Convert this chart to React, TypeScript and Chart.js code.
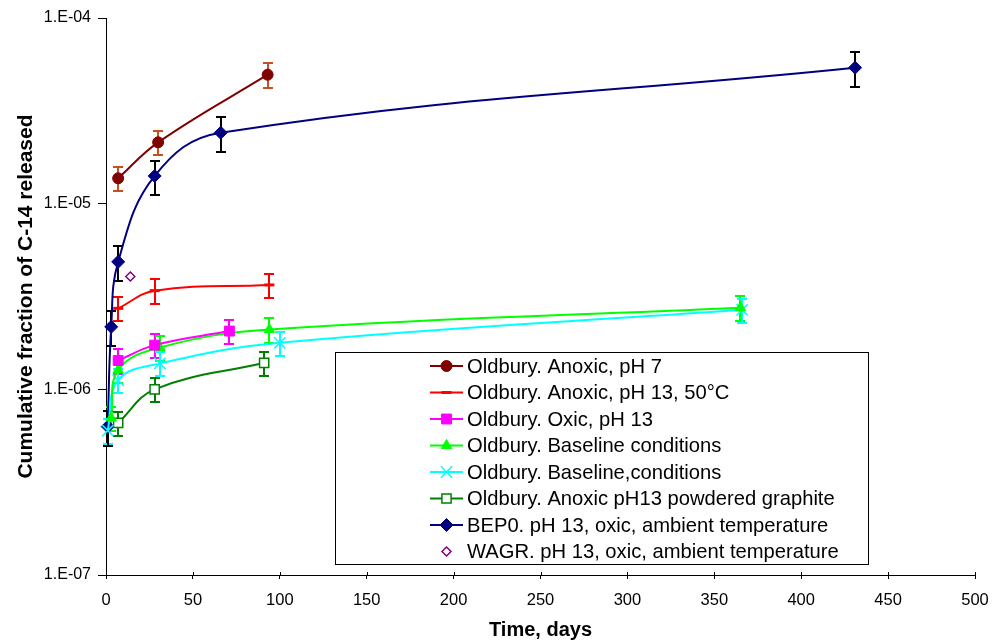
import React, { useEffect, useRef } from 'react';
import { Chart, registerables } from 'chart.js';

Chart.register(...registerables);

const FONT_FAMILY = '"Liberation Sans", Arial, Helvetica, sans-serif';

// Axis ranges and tick labels
const xMin = 0;
const xMax = 500;
const xStep = 50;
const yMin = 1e-7;
const yMax = 1e-4;
const yTickValues = [1e-7, 1e-6, 1e-5, 1e-4];
const yTickLabels = ['1.E-07', '1.E-06', '1.E-05', '1.E-04'];

const xTitle = 'Time, days';
const yTitle = 'Cumulative fraction of C-14 released';

const seriesLabels = [
  'Oldbury. Anoxic, pH 7',
  'Oldbury. Anoxic, pH 13, 50°C',
  'Oldbury. Oxic, pH 13',
  'Oldbury. Baseline conditions',
  'Oldbury. Baseline,conditions',
  'Oldbury. Anoxic pH13 powdered graphite',
  'BEP0. pH 13, oxic, ambient temperature',
  'WAGR. pH 13, oxic, ambient temperature',
];

// Oldbury. Anoxic, pH 7
const anoxicPh7Days = [7, 30, 93];
const anoxicPh7Frac = [1.37e-5, 2.14e-5, 4.95e-5];
const anoxicPh7Err = [0.15, 0.15, 0.15];

// Oldbury. Anoxic, pH 13, 50°C
const anoxic50cDays = [7, 28, 94];
const anoxic50cFrac = [2.73e-6, 3.4e-6, 3.65e-6];
const anoxic50cErr = [0.15, 0.15, 0.15];

// Oldbury. Oxic, pH 13
const oxicDays = [7, 28, 71];
const oxicFrac = [1.43e-6, 1.73e-6, 2.06e-6];
const oxicErr = [0.15, 0.15, 0.15];

// Oldbury. Baseline conditions
const baselineDays = [3, 7, 31, 94, 365];
const baselineFrac = [7.0e-7, 1.27e-6, 1.68e-6, 2.1e-6, 2.75e-6];
const baselineErr = [0.15, 0.15, 0.15, 0.15, 0.15];

// Oldbury. Baseline,conditions (repeat)
const baseline2Days = [1, 7, 31, 100, 366];
const baseline2Frac = [6.0e-7, 1.12e-6, 1.38e-6, 1.78e-6, 2.68e-6];
const baseline2Err = [0.15, 0.15, 0.15, 0.15, 0.15];

// Oldbury. Anoxic pH13 powdered graphite
const powderDays = [7, 28, 91];
const powderFrac = [6.6e-7, 1.0e-6, 1.39e-6];
const powderErr = [0.15, 0.15, 0.15];

// BEP0. pH 13, oxic, ambient temperature
const bep0Days = [1, 3, 7, 28, 66, 431];
const bep0Frac = [6.3e-7, 2.17e-6, 4.86e-6, 1.41e-5, 2.41e-5, 5.4e-5];
const bep0Err = [0.21, 0.21, 0.21, 0.21, 0.21, 0.21];

// WAGR. pH 13, oxic, ambient temperature
const wagrDays = [14];
const wagrFrac = [4.05e-6];

const seriesDays = [anoxicPh7Days, anoxic50cDays, oxicDays, baselineDays, baseline2Days, powderDays, bep0Days, wagrDays];
const seriesFrac = [anoxicPh7Frac, anoxic50cFrac, oxicFrac, baselineFrac, baseline2Frac, powderFrac, bep0Frac, wagrFrac];
const seriesErr = [anoxicPh7Err, anoxic50cErr, oxicErr, baselineErr, baseline2Err, powderErr, bep0Err, null];

// Drawing styles for each series
const seriesStyles = [
  { color: '#800000', errColor: '#C8501E', pointStyle: 'circle', radius: 5.5, fill: '#800000', pbw: 1, line: true },
  { color: '#FF0000', errColor: '#FF0000', pointStyle: 'line', radius: 5, fill: '#FF0000', pbw: 3, line: true },
  { color: '#FF00FF', errColor: '#FF00FF', pointStyle: 'rect', radius: 7, fill: '#FF00FF', pbw: 1, line: true },
  { color: '#00FF00', errColor: '#00FF00', pointStyle: 'triangle', radius: 6, fill: '#00FF00', pbw: 1, line: true },
  { color: '#00FFFF', errColor: '#00FFFF', pointStyle: 'crossRot', radius: 8, fill: '#00FFFF', pbw: 1.5, line: true },
  { color: '#008000', errColor: '#008000', pointStyle: 'rect', radius: 6.5, fill: '#FFFFFF', pbw: 1.5, line: true },
  { color: '#000080', errColor: '#000000', pointStyle: 'rectRot', radius: 6.5, fill: '#000080', pbw: 1, line: true },
  { color: '#800080', errColor: '#800080', pointStyle: 'rectRot', radius: 4.5, fill: '#FFFFFF', pbw: 1.5, line: false },
];

function drawMarker(ctx: CanvasRenderingContext2D, style: string, x: number, y: number, r: number, fill: string, stroke: string, lw: number) {
  ctx.save();
  ctx.lineWidth = lw;
  ctx.strokeStyle = stroke;
  ctx.fillStyle = fill;
  ctx.beginPath();
  if (style === 'circle') {
    ctx.arc(x, y, r, 0, Math.PI * 2);
    ctx.fill();
    ctx.stroke();
  } else if (style === 'rect') {
    const s = r * Math.SQRT1_2;
    ctx.rect(x - s, y - s, 2 * s, 2 * s);
    ctx.fill();
    ctx.stroke();
  } else if (style === 'rectRot') {
    ctx.moveTo(x, y - r);
    ctx.lineTo(x + r, y);
    ctx.lineTo(x, y + r);
    ctx.lineTo(x - r, y);
    ctx.closePath();
    ctx.fill();
    ctx.stroke();
  } else if (style === 'triangle') {
    ctx.moveTo(x, y - r);
    ctx.lineTo(x + r * 0.866, y + r * 0.5);
    ctx.lineTo(x - r * 0.866, y + r * 0.5);
    ctx.closePath();
    ctx.fill();
    ctx.stroke();
  } else if (style === 'crossRot') {
    const o = r * Math.SQRT1_2;
    ctx.moveTo(x - o, y - o);
    ctx.lineTo(x + o, y + o);
    ctx.moveTo(x + o, y - o);
    ctx.lineTo(x - o, y + o);
    ctx.stroke();
  } else if (style === 'line') {
    ctx.moveTo(x - r, y);
    ctx.lineTo(x + r, y);
    ctx.stroke();
  }
  ctx.restore();
}

// Vertical error bars with caps, drawn beneath the series
const errorBarsPlugin = {
  id: 'errorBars',
  beforeDatasetsDraw(chart: any) {
    const { ctx } = chart;
    const xs = chart.scales.x;
    const ys = chart.scales.y;
    chart.data.datasets.forEach((ds: any) => {
      if (!ds.errors) return;
      ctx.save();
      ctx.strokeStyle = ds.errColor;
      ctx.lineWidth = 2;
      ds.data.forEach((p: any, i: number) => {
        const e = ds.errors[i];
        const px = Math.round(xs.getPixelForValue(p.x));
        const top = Math.round(ys.getPixelForValue(p.y * (1 + e)));
        const bot = Math.round(ys.getPixelForValue(p.y * (1 - e)));
        ctx.beginPath();
        ctx.moveTo(px, top);
        ctx.lineTo(px, bot);
        ctx.moveTo(px - 5, top);
        ctx.lineTo(px + 5, top);
        ctx.moveTo(px - 5, bot);
        ctx.lineTo(px + 5, bot);
        ctx.stroke();
      });
      ctx.restore();
    });
  },
};

// Boxed legend inside the plot and small inner tick marks on the x axis
const legendBoxPlugin = {
  id: 'legendBox',
  afterDraw(chart: any) {
    const { ctx, chartArea } = chart;
    const xs = chart.scales.x;

    ctx.save();
    ctx.strokeStyle = '#000';
    ctx.lineWidth = 1;
    xs.ticks.forEach((t: any) => {
      const px = Math.round(xs.getPixelForValue(t.value)) + 0.5;
      ctx.beginPath();
      ctx.moveTo(px, chartArea.bottom - 3);
      ctx.lineTo(px, chartArea.bottom);
      ctx.stroke();
    });
    ctx.restore();

    const left = 335.5;
    const top = 352.5;
    const width = 533;
    const height = 212;
    ctx.save();
    ctx.fillStyle = '#FFFFFF';
    ctx.fillRect(left, top, width, height);
    ctx.strokeStyle = '#000';
    ctx.lineWidth = 1;
    ctx.strokeRect(left, top, width, height);

    ctx.font = `20.2px ${FONT_FAMILY}`;
    ctx.textBaseline = 'middle';
    ctx.textAlign = 'left';
    seriesLabels.forEach((label, i) => {
      const st = seriesStyles[i];
      const cy = 366 + i * 26.5;
      if (st.line) {
        ctx.beginPath();
        ctx.strokeStyle = st.color;
        ctx.lineWidth = 2;
        ctx.moveTo(430, cy);
        ctx.lineTo(463, cy);
        ctx.stroke();
      }
      drawMarker(ctx, st.pointStyle, 446.5, cy, st.radius, st.fill, st.color, st.pbw);
      ctx.fillStyle = '#000';
      ctx.fillText(label, 467, cy + 1);
    });
    ctx.restore();
  },
};

export default function App() {
  const canvasRef = useRef<HTMLCanvasElement | null>(null);

  useEffect(() => {
    const canvas = canvasRef.current;
    if (!canvas) return;

    const datasets = seriesLabels.map((label, i) => {
      const st = seriesStyles[i];
      return {
        label,
        data: seriesDays[i].map((d, j) => ({ x: d, y: seriesFrac[i][j] })),
        errors: seriesErr[i],
        errColor: st.errColor,
        showLine: st.line,
        borderColor: st.color,
        backgroundColor: st.fill,
        borderWidth: 2,
        tension: 0.4,
        pointStyle: st.pointStyle,
        pointRadius: st.radius,
        pointHoverRadius: st.radius,
        pointBackgroundColor: st.fill,
        pointBorderColor: st.color,
        pointBorderWidth: st.pbw,
        clip: false,
        fill: false,
      };
    });

    const chart = new Chart(canvas, {
      type: 'scatter',
      data: { datasets: datasets as any },
      options: {
        responsive: false,
        animation: false,
        devicePixelRatio: 1,
        layout: { padding: { top: 18, right: 19, left: 0, bottom: 0 } },
        plugins: {
          legend: { display: false },
          tooltip: { enabled: false },
        },
        scales: {
          x: {
            type: 'linear',
            min: xMin,
            max: xMax,
            ticks: {
              stepSize: xStep,
              color: '#000',
              font: { family: FONT_FAMILY, size: 16.5 },
              padding: 12,
              maxRotation: 0,
            },
            grid: { drawOnChartArea: false, color: '#000', tickColor: '#000', tickLength: 4 },
            border: { color: '#000', width: 1 },
            title: {
              display: true,
              text: xTitle,
              color: '#000',
              font: { family: FONT_FAMILY, size: 20, weight: 'bold' },
              padding: { top: 0, bottom: 1 },
            },
            afterFit: (s: any) => {
              s.height = 68;
              s.paddingLeft = 0;
              s.paddingRight = 0;
            },
          },
          y: {
            type: 'logarithmic',
            min: yMin,
            max: yMax,
            afterBuildTicks: (s: any) => {
              s.ticks = yTickValues.map((v) => ({ value: v }));
            },
            ticks: {
              color: '#000',
              font: { family: FONT_FAMILY, size: 16 },
              padding: 7,
              callback: (_v: any, idx: number) => yTickLabels[idx],
            },
            grid: { drawOnChartArea: false, color: '#000', tickColor: '#000', tickLength: 8 },
            border: { color: '#000', width: 1 },
            title: {
              display: true,
              text: yTitle,
              color: '#000',
              font: { family: FONT_FAMILY, size: 21, weight: 'bold' },
              padding: { top: 14, bottom: 0 },
            },
            afterFit: (s: any) => {
              s.width = 106;
              s.paddingTop = 0;
              s.paddingBottom = 0;
            },
          },
        },
      },
      plugins: [errorBarsPlugin, legendBoxPlugin],
    });

    return () => {
      chart.destroy();
    };
  }, []);

  return (
    <div style={{ position: 'fixed', left: 0, top: 0, width: 994, height: 643, background: '#FFFFFF' }}>
      <canvas ref={canvasRef} width={994} height={643} style={{ display: 'block' }} />
    </div>
  );
}
